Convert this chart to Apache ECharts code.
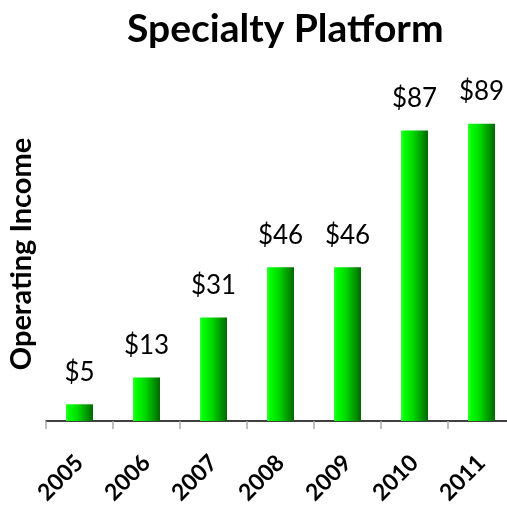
<!DOCTYPE html>
<html><head><meta charset="utf-8">
<script src="https://cdn.jsdelivr.net/npm/echarts@6/dist/echarts.min.js"></script>
<style>html,body{margin:0;padding:0;background:#fff}#c{width:507px;height:508px}</style>
</head><body><div id="c"></div>
<script>
const categories = ['2005','2006','2007','2008','2009','2010','2011'];
const income = [5, 13, 31, 46, 46, 87, 89];
const titleText = 'Specialty Platform';
const yName = 'Operating Income';

const chart = echarts.init(document.getElementById('c'), null, {renderer:'canvas'});
chart.setOption({
  animation: false,
  backgroundColor: '#ffffff',
  title: {
    text: titleText, left: 122, top: 5,
    textStyle: {fontFamily: 'Lato', fontWeight: 'bold', fontSize: 39, color: '#000'}
  },
  grid: {left: 46, top: 87, width: 469, height: 334, containLabel: false, outerBoundsMode: 'none'},
  xAxis: {
    type: 'category', data: categories,
    axisLine: {lineStyle: {color: '#000', width: 1.5}},
    axisTick: {show: true, length: 8, lineStyle: {color: '#aaaaaa', width: 1.5}},
    axisLabel: {rotate: 45, margin: 38, fontFamily: 'Lato', fontWeight: 'bold', fontSize: 23, color: '#000'}
  },
  yAxis: {
    type: 'value', min: 0, max: 100,
    name: yName, nameLocation: 'middle', nameRotate: 90, nameGap: 10,
    nameTextStyle: {fontFamily: 'Lato', fontWeight: 'bold', fontSize: 29, color: '#000', padding: [0, 0, 0, 0]},
    axisLine: {show: false}, axisTick: {show: false}, axisLabel: {show: false}, splitLine: {show: false}
  },
  series: [{
    type: 'bar', data: income, barWidth: 27,
    itemStyle: {
      color: new echarts.graphic.LinearGradient(0, 0, 1, 0, [
        {offset: 0, color: '#33ff33'},
        {offset: 0.12, color: '#00ff00'},
        {offset: 0.45, color: '#00d800'},
        {offset: 1, color: '#006800'}
      ])
    },
    label: {
      show: true, position: 'top', distance: 19,
      formatter: p => '$' + p.value,
      fontFamily: 'Lato', fontSize: 26, color: '#000'
    }
  }]
});
</script></body></html>
